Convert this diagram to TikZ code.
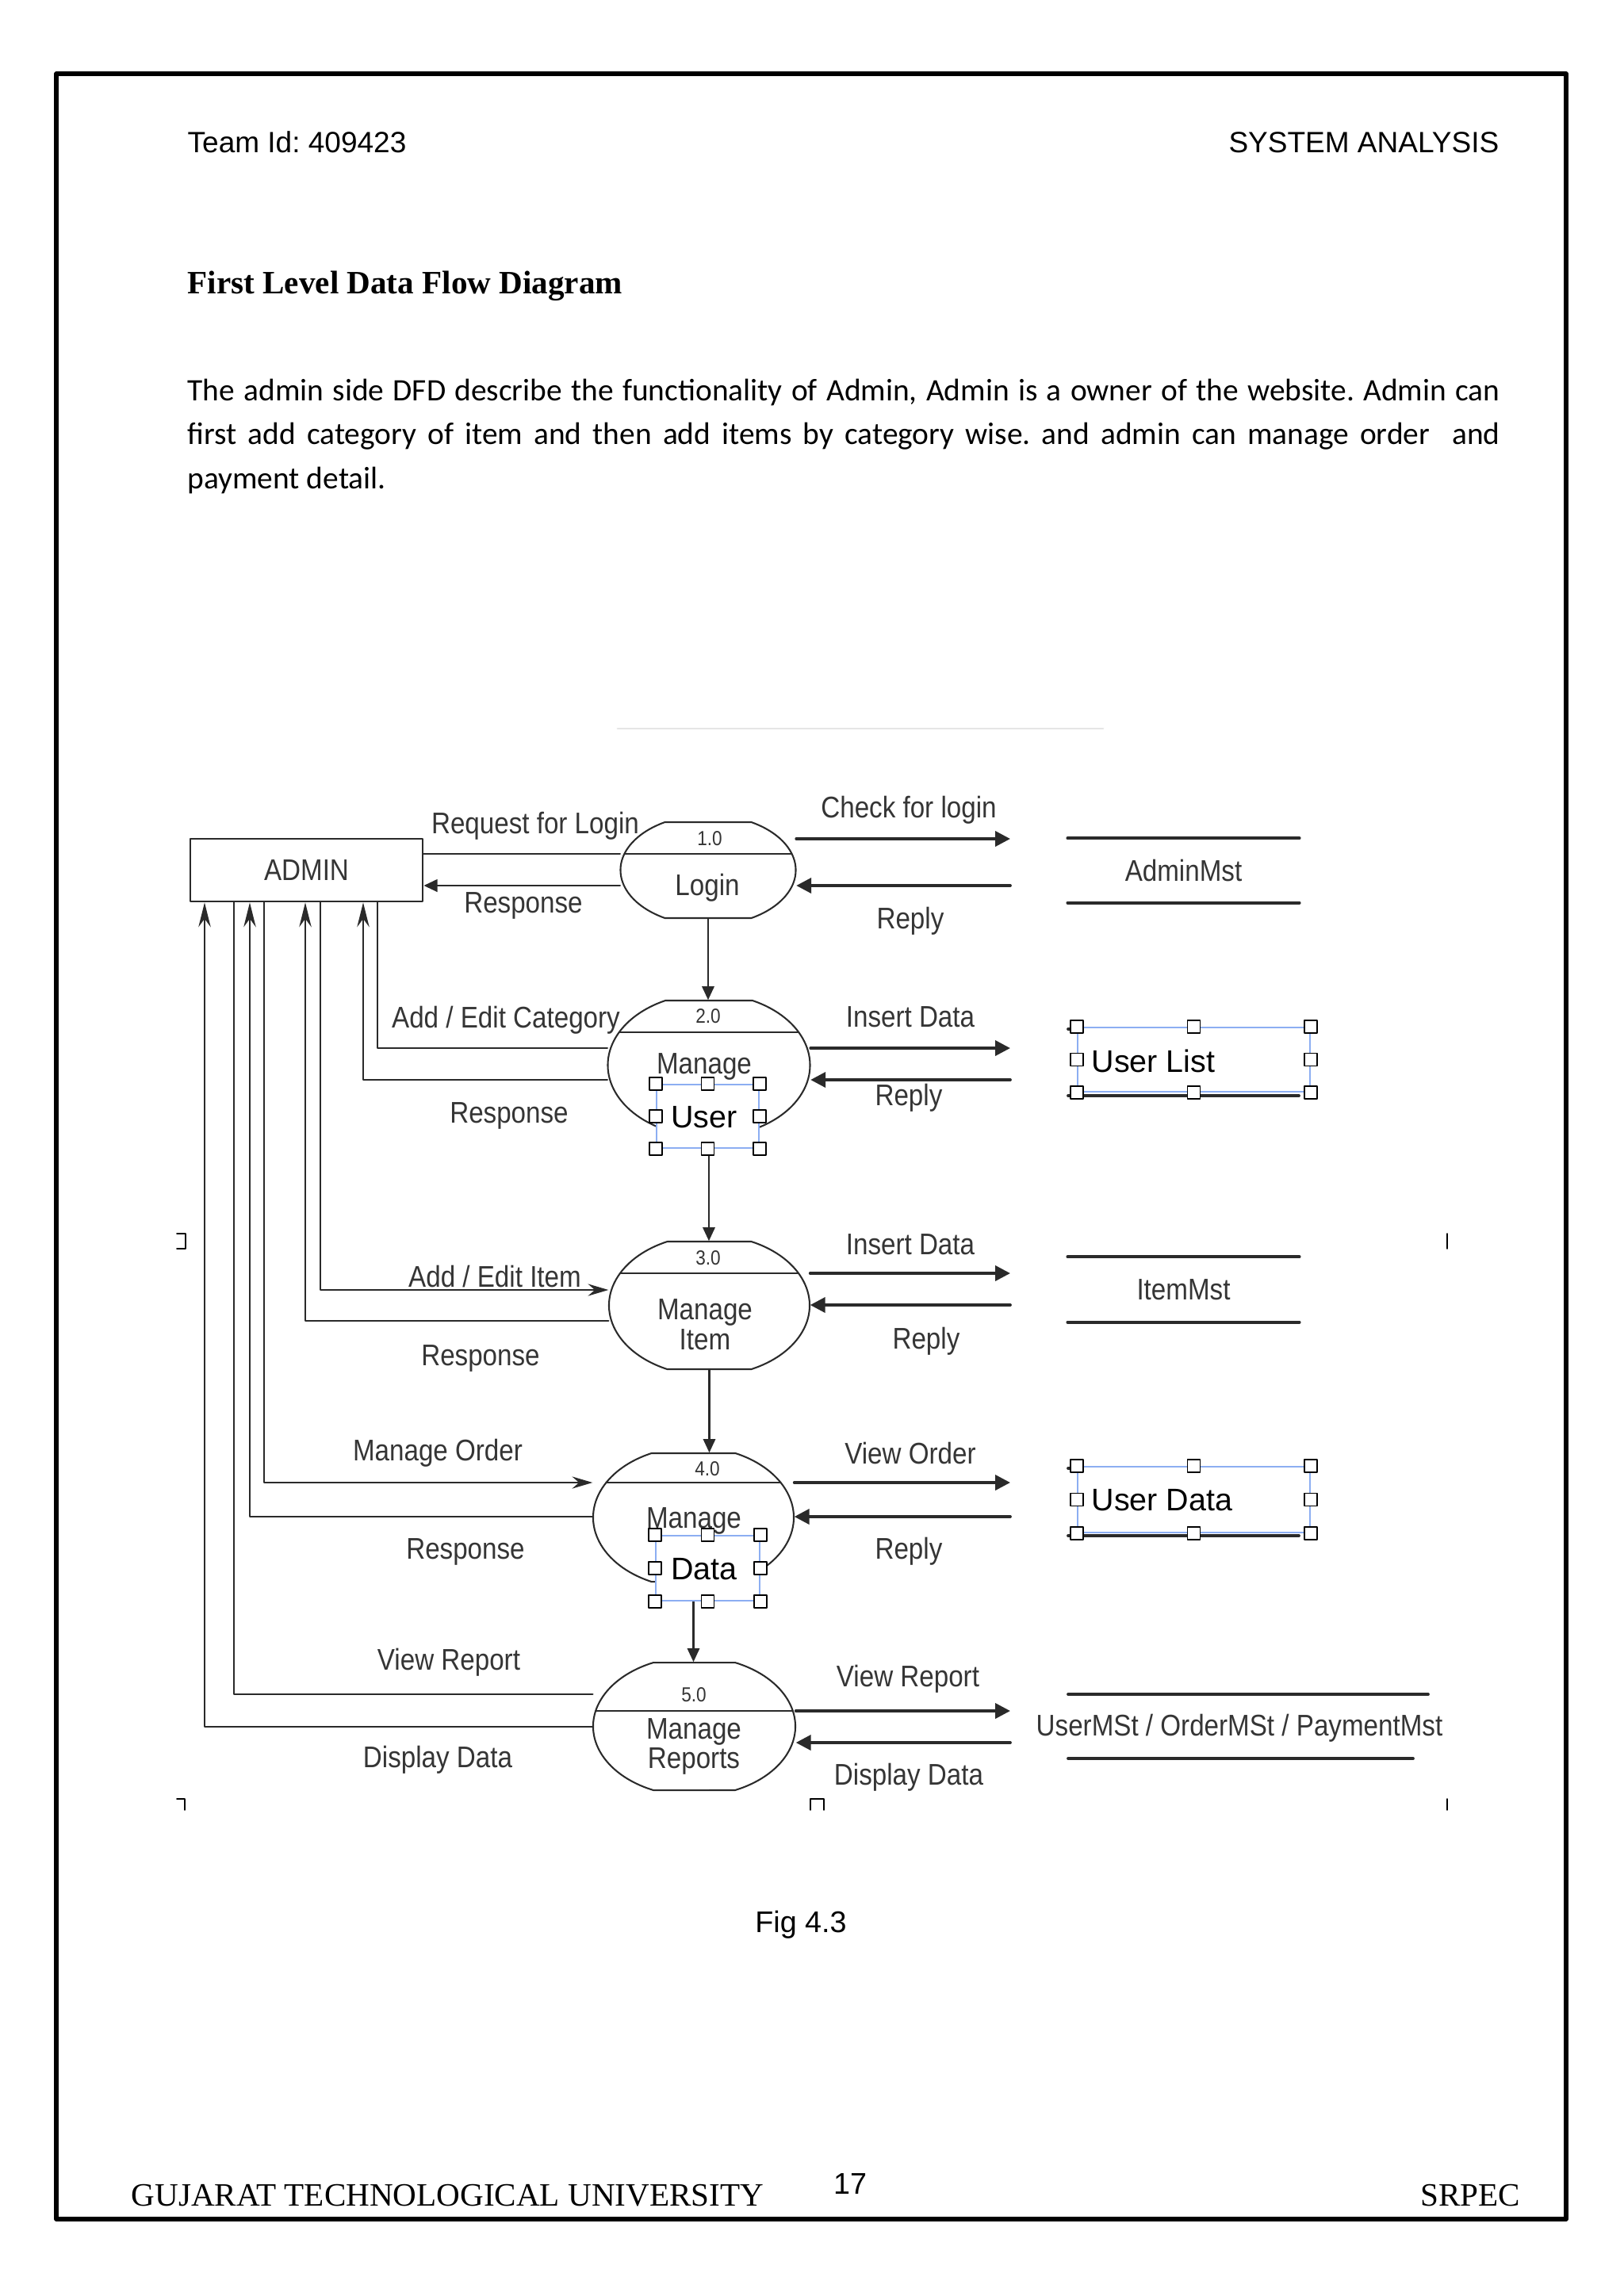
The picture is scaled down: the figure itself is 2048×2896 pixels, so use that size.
\documentclass[tikz,border=0pt]{standalone}
\usepackage{fontspec}
\setmainfont{Liberation Serif}
\newfontfamily\hdrfont{Liberation Sans}
\newfontfamily\bodyfont{Carlito}
\newfontfamily\dfdfont[FakeStretch=0.88]{Liberation Sans}
\usetikzlibrary{calc,arrows.meta,positioning}
\newcommand{\pxu}{0.010254cm}
\definecolor{inkgray}{HTML}{353535}
\definecolor{linegray}{HTML}{2A2A2A}
\definecolor{selblue}{HTML}{8CAEF2}
\tikzset{
  lbl/.style={font=\dfdfont\fontsize{11}{11}\selectfont, text=inkgray, inner sep=1pt},
  numlbl/.style={font=\dfdfont\fontsize{7.5}{9}\selectfont, text=inkgray, inner sep=1pt},
  seltxt/.style={font=\hdrfont\fontsize{11.5}{13}\selectfont, text=black, inner sep=0pt},
  procbox/.style={draw=none, inner sep=0pt},
  procline/.style={draw=linegray, line width=0.6pt},
  entity/.style={draw=linegray, line width=0.8pt, inner sep=0pt, font=\dfdfont\fontsize{11}{13}\selectfont, text=inkgray},
  store/.style={draw=none, inner sep=0pt, font=\dfdfont\fontsize{11}{13}\selectfont, text=inkgray},
  wire/.style={draw=linegray, line width=0.8pt},
  toadmin/.style={wire, -{Stealth[length=9pt,width=4.5pt,inset=3pt]}},
  back/.style={wire, -{Triangle[length=5pt,width=4.5pt]}},
  toproc/.style={wire, -{Stealth[length=7.5pt,width=4.4pt,inset=2.5pt]}},
  toright/.style={wire, line width=1.1pt, -{Triangle[length=5.5pt,width=5.5pt]}},
  down/.style={wire, -{Triangle[length=5pt,width=4.4pt]}},
  storeline/.style={draw=linegray, line width=1.1pt},
  selbox/.style={draw=selblue, fill=white, line width=0.6pt, inner sep=0pt},
  handle/.style={draw=black, fill=white, line width=0.4pt, minimum size=16*\pxu, inner sep=0pt},
  cropmark/.style={draw=black, line width=0.5pt},
}
\frenchspacing
\begin{document}
\begin{tikzpicture}[x=0.010254cm, y=-0.010254cm, line join=round, line cap=round]
	\useasboundingbox (0,0) rectangle (2048,2896);
	\fill[white] (0,0) rectangle (2048,2896);
	% Page frame
	\draw[line width=1.6pt] (71,93) rectangle (1975,2799);
	% Header, title, text
	\node[anchor=base west, inner sep=0pt, font=\hdrfont\fontsize{10.8}{13}\selectfont] (team) at (236,192) {Team Id: 409423};
	\node[anchor=base east, inner sep=0pt, font=\hdrfont\fontsize{10.8}{13}\selectfont] (sect) at (1891,192) {SYSTEM ANALYSIS};
	\node[anchor=base west, inner sep=0pt, font=\bfseries\fontsize{12}{14}\selectfont] (ttl) at (236,370) {First Level Data Flow Diagram};
	\node[anchor=base west, inner sep=0pt, font=\bodyfont\fontsize{11.5}{14}\selectfont] (par1) at (236,505) {\makebox[16.97cm][s]{The admin side DFD describe the functionality of Admin, Admin is a owner of the website. Admin can}};
	\node[anchor=base west, inner sep=0pt, font=\bodyfont\fontsize{11.5}{14}\selectfont] (par2) at (236,560) {\makebox[16.97cm][s]{first add category of item and then add items by category wise. and admin can manage order \ and}};
	\node[anchor=base west, inner sep=0pt, font=\bodyfont\fontsize{11.5}{14}\selectfont] (par3) at (236,616) {payment detail.};
	\draw[gray!20, line width=0.8pt] (779,919) -- (1391,919);

	% Processes
	\foreach \n/\cx/\cy/\a/\h/\f/\d in {p1/893/1097.5/110.5/60.5/54.5/-20.5, p2/894/1343.5/127.5/81.5/55/-41.5, p3/894.5/1646.5/126.5/80.5/53/-40.5, p4/874.5/1914/126.5/81/53/-44, p5/875.5/2177.5/127.5/80.5/51.5/-19.5}{
		\pgfmathsetmacro\b{\h/sqrt(1-(\f/\a)^2)}
		\pgfmathsetmacro\t{asin(\h/\b)}
		\pgfmathsetmacro\w{\a*sqrt(1-(\d/\b)^2)}
		\node[procbox, minimum width=2*\a*\pxu, minimum height=2*\h*\pxu] (\n) at (\cx,\cy) {};
		\draw[procline] (\cx-\f,\cy-\h) -- (\cx+\f,\cy-\h) arc[start angle=-\t, end angle=\t, x radius=\a, y radius=\b] -- (\cx-\f,\cy+\h) arc[start angle=180-\t, end angle=180+\t, x radius=\a, y radius=\b] -- cycle;
		\draw[procline] (\cx-\w,\cy+\d) -- (\cx+\w,\cy+\d);
	}
	\node[numlbl] (n1) at (895,1058) {1.0};
	\node[lbl] (t1) at (892,1120) {Login};
	\node[numlbl] (n2) at (893,1282) {2.0};
	\node[lbl] (t2) at (888,1345) {Manage};
	\node[numlbl] (n3) at (893,1587) {3.0};
	\node[lbl, align=center] (t3) at (889,1671) {Manage\\Item};
	\node[numlbl] (n4) at (892,1853) {4.0};
	\node[lbl] (t4) at (875,1918) {Manage};
	\node[numlbl] (n5) at (875,2138) {5.0};
	\node[lbl, align=center] (t5) at (875,2203) {Manage\\Reports};

	% Admin and its lanes
	\node[entity, minimum width=293*\pxu, minimum height=79*\pxu] (admin) at (386.5,1097.5) {ADMIN};
	\coordinate (xa) at (476,0);
	\coordinate (xb) at (458,0);
	\coordinate (xc) at (404,0);
	\coordinate (xd) at (385,0);
	\coordinate (xe) at (333,0);
	\coordinate (xf) at (315,0);
	\coordinate (xg) at (295,0);
	\coordinate (xh) at (258,0);
	\draw[wire] ($(admin.east)+(0,-20.5)$) -- ($(p1.west)+(0,-20.5)$);
	\draw[back] ($(p1.west)+(0,19.5)$) -- ($(admin.east)+(0,19.5)$);
	\draw[wire] (admin.south -| xa) |- ($(p2.west)+(0,-21.5)$);
	\draw[toadmin] ($(p2.west)+(0,18.5)$) -| (admin.south -| xb);
	\draw[toproc] (admin.south -| xc) |- ($(p3.west)+(0,-19.5)$);
	\draw[toadmin] ($(p3.west)+(0,19.5)$) -| (admin.south -| xd);
	\draw[toproc] (admin.south -| xe) |- ($(p4.west)+(0,-44)$);
	\draw[toadmin] ($(p4.west)+(0,-1)$) -| (admin.south -| xf);
	\draw[wire] (admin.south -| xg) |- ($(p5.west)+(0,-40.5)$);
	\draw[toadmin] ($(p5.west)+(0,0.5)$) -| (admin.south -| xh);

	% Flow down
	\draw[down] (p1.south) -- (p1.south |- p2.north);
	\draw[down] (p2.south) -- (p2.south |- p3.north);
	\draw[down] (p3.south) -- (p3.south |- p4.north);
	\draw[down] (p4.south) -- (p4.south |- p5.north);

	% Right side flows
	\coordinate (r1a) at (1274,1058);
	\coordinate (r1b) at (1274,1117);
	\coordinate (r2a) at (1274,1322);
	\coordinate (r2b) at (1274,1362);
	\coordinate (r3a) at (1274,1606);
	\coordinate (r3b) at (1274,1646);
	\coordinate (r4a) at (1274,1870);
	\coordinate (r4b) at (1274,1913);
	\coordinate (r5a) at (1274,2158);
	\coordinate (r5b) at (1274,2198);
	\draw[toright] (p1.east |- r1a) -- (r1a);
	\draw[toright] (r1b) -- (p1.east |- r1b);
	\draw[toright] (p2.east |- r2a) -- (r2a);
	\draw[toright] (r2b) -- (p2.east |- r2b);
	\draw[toright] (p3.east |- r3a) -- (r3a);
	\draw[toright] (r3b) -- (p3.east |- r3b);
	\draw[toright] (p4.east |- r4a) -- (r4a);
	\draw[toright] (r4b) -- (p4.east |- r4b);
	\draw[toright] (p5.east |- r5a) -- (r5a);
	\draw[toright] (r5b) -- (p5.east |- r5b);

	% Flow labels
	\node[lbl] (lreq) at (675,1042) {Request for Login};
	\node[lbl] (lres1) at (660,1142) {Response};
	\node[lbl] (lcat) at (638,1287) {Add / Edit Category};
	\node[lbl] (lres2) at (642,1407) {Response};
	\node[lbl] (litem) at (624,1610) {Add / Edit Item};
	\node[lbl] (lres3) at (606,1713) {Response};
	\node[lbl] (lord) at (552,1833) {Manage Order};
	\node[lbl] (lres4) at (587,1957) {Response};
	\node[lbl] (lrep) at (566,2097) {View Report};
	\node[lbl] (ldisp) at (552,2220) {Display Data};
	\node[lbl] (rchk) at (1146,1022) {Check for login};
	\node[lbl] (rrep1) at (1148,1162) {Reply};
	\node[lbl] (rins2) at (1148,1283) {Insert Data};
	\node[lbl] (rrep2) at (1146,1385) {Reply};
	\node[lbl] (rins3) at (1148,1570) {Insert Data};
	\node[lbl] (rrep3) at (1168,1692) {Reply};
	\node[lbl] (rord) at (1148,1833) {View Order};
	\node[lbl] (rrep4) at (1146,1957) {Reply};
	\node[lbl] (rvrep) at (1145,2118) {View Report};
	\node[lbl] (rdisp) at (1146,2242) {Display Data};

	% Data stores
	\node[store, minimum width=291*\pxu, minimum height=80*\pxu] (s1) at (1492.5,1098) {AdminMst};
	\draw[storeline] (s1.north west) -- (s1.north east) (s1.south west) -- (s1.south east);
	\node[store, minimum width=291*\pxu, minimum height=81*\pxu] (s3) at (1492.5,1626.5) {ItemMst};
	\draw[storeline] (s3.north west) -- (s3.north east) (s3.south west) -- (s3.south east);
	\node[store] (s5) at (1563,2180) {UserMSt / OrderMSt / PaymentMst};
	\draw[storeline] (1347,2137) -- (1801,2137) (1347,2218) -- (1782,2218);
	\draw[storeline] (1347,1298) -- (1638,1298) (1347,1382) -- (1638,1382);
	\draw[storeline] (1347,1852) -- (1638,1852) (1347,1937) -- (1638,1937);

	% Selected text boxes
	\node[selbox, minimum width=129*\pxu, minimum height=80*\pxu] (ub) at (892.5,1408) {};
	\node[seltxt] (ubt) at (888,1409) {User};
	\node[selbox, minimum width=131*\pxu, minimum height=82*\pxu] (db) at (892.5,1978) {};
	\node[seltxt] (dbt) at (888,1979) {Data};
	\node[selbox, minimum width=293*\pxu, minimum height=81*\pxu] (ul) at (1505.5,1336.5) {};
	\node[seltxt, anchor=west] (ult) at ($(ul.west)+(18,2)$) {User List};
	\node[selbox, minimum width=293*\pxu, minimum height=83*\pxu] (ud) at (1505.5,1891.5) {};
	\node[seltxt, anchor=west] (udt) at ($(ud.west)+(18,1)$) {User Data};
	\foreach \bx in {ub,db,ul,ud}
		\foreach \an in {north west,north,north east,east,south east,south,south west,west}
			\node[handle] at (\bx.\an) {};

	% Crop marks
	\draw[cropmark] (223,1556) -- (234,1556) -- (234,1575) -- (223,1575);
	\draw[cropmark] (1825,1556) -- (1825,1575);
	\draw[cropmark] (223,2269) -- (233,2269) -- (233,2283);
	\draw[cropmark] (1022,2283) -- (1022,2269) -- (1039,2269) -- (1039,2283);
	\draw[cropmark] (1825,2269) -- (1825,2283);

	% Caption and footer
	\node[font=\hdrfont\fontsize{11}{13}\selectfont] (fig) at (1010,2428) {Fig 4.3};
	\node[anchor=base west, inner sep=0pt, font=\fontsize{12}{14}\selectfont] (gtu) at (165,2782) {GUJARAT TECHNOLOGICAL UNIVERSITY};
	\node[font=\hdrfont\fontsize{11}{13}\selectfont] (pg) at (1072,2754) {17};
	\node[anchor=base east, inner sep=0pt, font=\fontsize{12}{14}\selectfont] (col) at (1918,2782) {SRPEC};
\end{tikzpicture}
\end{document}
